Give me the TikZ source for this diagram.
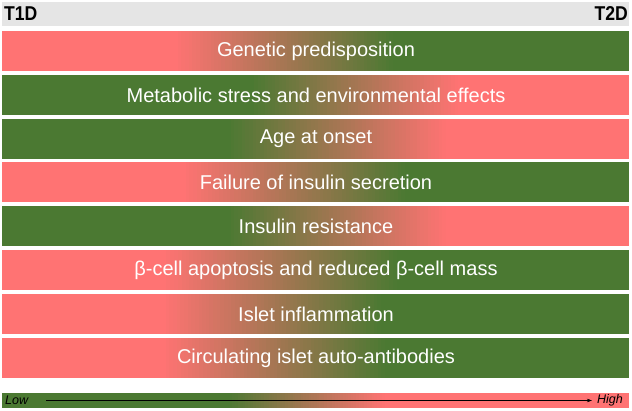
\documentclass[tikz,border=0pt]{standalone}
\usepackage{fontspec}
\setmainfont{Liberation Sans}
\usepackage{tikz}
\usetikzlibrary{arrows.meta,positioning,calc}
\definecolor{lowred}{RGB}{255,115,115}
\definecolor{highgreen}{RGB}{75,121,50}
\definecolor{headgrey}{RGB}{229,229,229}

% bar from x=2 to x=629: #1 bottom, #2 height, #3 left colour, #4 right colour, #5/#6 blend start/end
\newcommand{\blendbar}[6]{%
    \fill[#3] (2,#1) rectangle (#5+0.5,#1+#2);
    \fill[#4] (#6-0.5,#1) rectangle (629,#1+#2);
    \foreach \i in {0,...,59}{
        \pgfmathsetmacro{\xa}{#5+(#6-#5)*\i/60}
        \pgfmathsetmacro{\xb}{#5+(#6-#5)*(\i+1)/60+0.4}
        \pgfmathtruncatemacro{\mix}{100*(\i+0.5)/60}
        \fill[#4!\mix!#3] (\xa,#1) rectangle (\xb,#1+#2);
    }%
}

\begin{document}
\begin{tikzpicture}[x=1pt, y=1pt,
    bartext/.style={text=white, font=\fontsize{20}{22}\selectfont, inner sep=0pt},
    headtext/.style={font=\fontsize{20}{22}\selectfont\bfseries, inner sep=0pt, xscale=0.88},
    scaletext/.style={font=\fontsize{12.5}{14}\selectfont\itshape, inner sep=0pt}]
    \useasboundingbox (0,0) rectangle (632,411);
    \def\bh{40}

    % Header with the two ends
    \fill[headgrey] (2,385) rectangle (629,409);
    \node[headtext, anchor=west] (t1d) at (4,397) {T1D};
    \node[headtext, anchor=east] (t2d) at (628,397) {T2D};

    % Genetic predisposition (red to green)
    \blendbar{340}{\bh}{lowred}{highgreen}{174}{393}
    \node[bartext] (genetic) at (316,360) {Genetic predisposition};

    % Metabolic stress (green to red)
    \blendbar{296}{\bh}{highgreen}{lowred}{251}{458}
    \node[bartext] (metabolic) at (316,316) {Metabolic stress and environmental effects};

    % Age at onset (green to red)
    \blendbar{252}{\bh}{highgreen}{lowred}{227}{446}
    \node[bartext] (age) at (316,272) {Age at onset};

    % Failure of insulin secretion (red to green)
    \blendbar{209}{\bh}{lowred}{highgreen}{182}{405}
    \node[bartext] (failure) at (316,229) {Failure of insulin secretion};

    % Insulin resistance (green to red)
    \blendbar{165}{\bh}{highgreen}{lowred}{227}{446}
    \node[bartext] (resistance) at (316,185) {Insulin resistance};

    % beta-cell apoptosis (red to green)
    \blendbar{121}{\bh}{lowred}{highgreen}{162}{397}
    \node[bartext] (apoptosis) at (316,141) {β-cell apoptosis and reduced β-cell mass};

    % Islet inflammation (red to green)
    \blendbar{77}{\bh}{lowred}{highgreen}{162}{381}
    \node[bartext] (inflammation) at (316,97) {Islet inflammation};

    % Auto-antibodies (red to green)
    \blendbar{33}{\bh}{lowred}{highgreen}{162}{385}
    \node[bartext] (antibodies) at (316,53) {Circulating islet auto-antibodies};

    % Low to high scale
    \blendbar{3}{15}{highgreen}{lowred}{227}{385}
    \node[scaletext, anchor=west] (low) at (5,10.5) {Low};
    \node[scaletext, anchor=east] (high) at (623,10.5) {High};
    \draw[-{Stealth[length=5pt, width=3.5pt]}, thin] ([xshift=18pt]low.east) -- ([xshift=-5pt]high.west);

\end{tikzpicture}
\end{document}
